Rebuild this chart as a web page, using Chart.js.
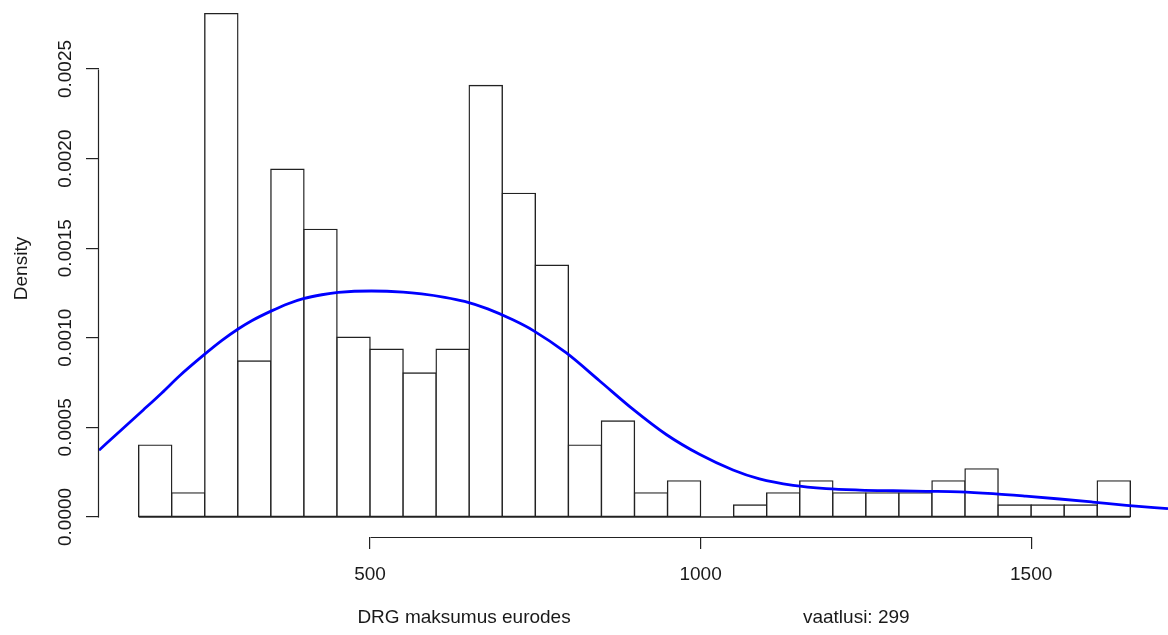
<!DOCTYPE html>
<html><head><meta charset="utf-8">
<script src="https://cdn.jsdelivr.net/npm/chart.js@4.4.0/dist/chart.umd.min.js"></script>
<style>html,body{margin:0;padding:0;background:#fff;}#wrap{width:1168px;height:635px;position:relative;}</style>
</head><body><div id="wrap"><canvas id="c"></canvas></div>
<script>
// Histogram bin edges (DRG cost, euros)
const breaks = [150,200,250,300,350,400,450,500,550,600,650,700,750,800,850,900,950,1000,1050,1100,1150,1200,1250,1300,1350,1400,1450,1500,1550,1600,1650];
// Histogram densities per bin
const histDensity = [0.000401,0.000134,0.002809,0.000870,0.001940,0.001605,0.001003,0.000936,0.000803,0.000936,0.002408,0.001806,0.001405,0.000401,0.000535,0.000134,0.000201,0,0.000067,0.000134,0.000201,0.000134,0.000134,0.000134,0.000201,0.000268,0.000067,0.000067,0.000067,0.000201];
// Density curve
const curveX = [90,122,157,185,212,245,276,301,321,351,376,399,427,452,502,550,578,613,643,678,716,747,797,847,898,948,999,1049,1089,1140,1190,1241,1291,1341,1392,1442,1492,1543,1593,1644,1707];
const curveY = [0.000372,0.000480,0.000597,0.000692,0.000788,0.000893,0.000985,0.001050,0.001095,0.001150,0.001190,0.001218,0.001240,0.001253,0.001261,0.001255,0.001245,0.001226,0.001203,0.001161,0.001100,0.001040,0.000915,0.000760,0.000600,0.000460,0.000348,0.000262,0.000212,0.000176,0.000158,0.000150,0.000146,0.000143,0.000140,0.000130,0.000116,0.000100,0.000083,0.000065,0.000046];
const xTickValues = [500,1000,1500];
const xTickLabels = ['500','1000','1500'];
const yTickValues = [0,0.0005,0.001,0.0015,0.002,0.0025];
const yTickLabels = ['0.0000','0.0005','0.0010','0.0015','0.0020','0.0025'];
const xTitle = 'DRG maksumus eurodes' + ' '.repeat(44) + 'vaatlusi: 299';
const yTitle = 'Density';

const FONT = {family: "'Liberation Sans', Arial, sans-serif", size: 19};
const INK = '#1a1a1a';
const LINE = '#222';

const barData = histDensity.map((d,i)=>({x:(breaks[i]+breaks[i+1])/2, y:d}));
const curveData = curveX.map((x,i)=>({x:x, y:curveY[i]}));
const baseData = [{x:breaks[0], y:0},{x:breaks[breaks.length-1], y:0}];

const partialAxes = {
  id:'partialAxes',
  afterDraw(chart){
    const ctx = chart.ctx, xs = chart.scales.x, ys = chart.scales.y, ca = chart.chartArea;
    ctx.save();
    ctx.strokeStyle = LINE; ctx.lineWidth = 1.2;
    ctx.beginPath();
    const ax = Math.round(ca.left) - 0.5;
    ctx.moveTo(ax, Math.round(ys.getPixelForValue(yTickValues[0])) + 0.5);
    ctx.lineTo(ax, Math.round(ys.getPixelForValue(yTickValues[yTickValues.length-1])) + 0.5);
    const ay = Math.round(ca.bottom) + 0.5;
    ctx.moveTo(Math.round(xs.getPixelForValue(xTickValues[0])) + 0.5, ay);
    ctx.lineTo(Math.round(xs.getPixelForValue(xTickValues[xTickValues.length-1])) + 0.5, ay);
    ctx.stroke();
    ctx.restore();
  }
};

new Chart(document.getElementById('c'), {
  type:'bar',
  data:{datasets:[
    {type:'line', data:curveData, borderColor:'#0000FF', borderWidth:2.8, pointRadius:0, tension:0.4, cubicInterpolationMode:'monotone', fill:false, order:0},
    {type:'line', data:baseData, borderColor:LINE, borderWidth:1.4, pointRadius:0, fill:false, order:1},
    {type:'bar', data:barData, backgroundColor:'#fff', borderColor:LINE, borderWidth:1.4, borderSkipped:false, inflateAmount:0.7, barPercentage:1, categoryPercentage:1, order:2}
  ]},
  options:{
    responsive:true, maintainAspectRatio:false, animation:false,
    layout:{padding:0, autoPadding:false},
    plugins:{legend:{display:false}, tooltip:{enabled:false}},
    scales:{
      x:{type:'linear', min:90, max:1707, offset:false,
        grid:{drawOnChartArea:false, drawTicks:true, tickLength:12, color:LINE, lineWidth:1.2, offset:false},
        border:{display:false},
        ticks:{font:FONT, color:INK, padding:14, autoSkip:false, maxRotation:0, callback:(v,i)=>xTickLabels[i]},
        afterBuildTicks:(s)=>{s.ticks = xTickValues.map(v=>({value:v}));},
        afterFit:(s)=>{s.height = 98; s.paddingLeft = 0; s.paddingRight = 0;},
        title:{display:true, text:xTitle, font:FONT, color:INK, padding:{top:0,bottom:6}}
      },
      y:{type:'linear', min:-0.000112, max:0.002885,
        grid:{drawOnChartArea:false, drawTicks:true, tickLength:13, color:LINE, lineWidth:1.2},
        border:{display:false},
        ticks:{font:FONT, color:INK, padding:-8.5, autoSkip:false, minRotation:90, maxRotation:90, crossAlign:'center', callback:(v,i)=>yTickLabels[i]},
        afterBuildTicks:(s)=>{s.ticks = yTickValues.map(v=>({value:v}));},
        afterFit:(s)=>{s.width = 99; s.paddingTop = 0; s.paddingBottom = 0;},
        title:{display:true, text:yTitle, font:FONT, color:INK, padding:{top:10,bottom:0}}
      }
    }
  },
  plugins:[partialAxes]
});
</script></body></html>
